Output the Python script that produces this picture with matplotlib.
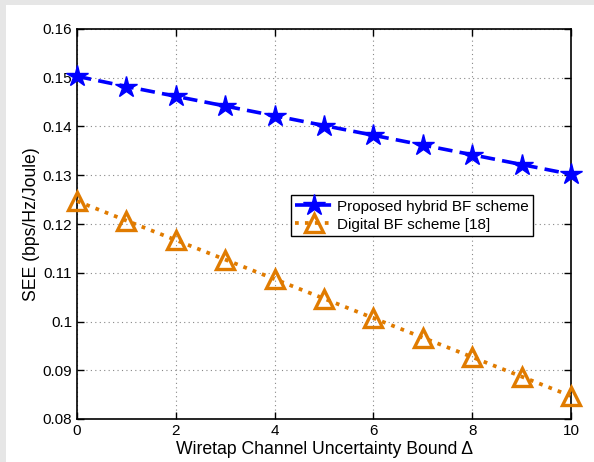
import matplotlib
matplotlib.use("Agg")
import matplotlib.pyplot as plt
from matplotlib.patches import Rectangle

plt.rcParams['font.family'] = ['Liberation Sans', 'DejaVu Sans']

delta = [0, 1, 2, 3, 4, 5, 6, 7, 8, 9, 10]
see_hybrid = [0.1503, 0.1482, 0.1462, 0.1442, 0.1422, 0.1402, 0.1382, 0.1362, 0.1342, 0.1322, 0.1302]
see_digital = [0.1247, 0.1207, 0.1167, 0.1127, 0.1087, 0.1047, 0.1007, 0.0967, 0.0927, 0.0887, 0.0847]
labels = ['Proposed hybrid BF scheme', 'Digital BF scheme [18]']
xticks = [0, 2, 4, 6, 8, 10]
yticks = [0.08, 0.09, 0.10, 0.11, 0.12, 0.13, 0.14, 0.15, 0.16]
ytick_labels = ['0.08', '0.09', '0.1', '0.11', '0.12', '0.13', '0.14', '0.15', '0.16']

fig = plt.figure(figsize=(5.94, 4.62), dpi=100)
fig.patch.set_facecolor('#e6e6e6')
# white canvas area, leaving a thin grey strip at left and top
canvas = Rectangle((6 / 594, 0), 1, 1 - 5 / 462, transform=fig.transFigure,
                   facecolor='white', edgecolor='none')
canvas.set_zorder(-10)
fig.add_artist(canvas)

ax = fig.add_axes([77 / 594, 1 - 419 / 462, (571 - 77) / 594, (419 - 29) / 462])
ax.set_zorder(1)

ax.plot(delta, see_hybrid, color='#0000ff', linestyle='--', linewidth=2.6, dashes=(4, 2),
        marker='*', markersize=16, markerfacecolor='#0000ff', markeredgecolor='#0000ff',
        label=labels[0], zorder=3, clip_on=False)
ax.plot(delta, see_digital, color='#e07b00', linestyle=':', linewidth=2.7,
        marker='^', markersize=12.5, markerfacecolor='none', markeredgecolor='#e07b00',
        markeredgewidth=2.4, label=labels[1], zorder=3, clip_on=False)

ax.set_xlim(0, 10)
ax.set_ylim(0.08, 0.16)
ax.set_xticks(xticks)
ax.set_yticks(yticks)
ax.set_yticklabels(ytick_labels)
ax.tick_params(direction='in', top=True, right=True, labelsize=11, length=5, width=1)
ax.grid(True, linestyle=(0, (1, 3)), color='#888888', linewidth=0.8)
for s in ax.spines.values():
    s.set_linewidth(1.2)

ax.set_xlabel('Wiretap Channel Uncertainty Bound \u0394', fontsize=12.7, labelpad=2)
ax.set_ylabel('SEE (bps/Hz/Joule)', fontsize=12.7, labelpad=2)

leg = ax.legend(loc='upper left', bbox_to_anchor=(0.433, 0.574), borderaxespad=0,
                fontsize=11, fancybox=False, framealpha=1, edgecolor='black',
                handlelength=2.4, handletextpad=0.3, borderpad=0.3, labelspacing=0.25)
leg.get_frame().set_linewidth(1.0)

fig.savefig('out.png', dpi=100, facecolor=fig.get_facecolor())
